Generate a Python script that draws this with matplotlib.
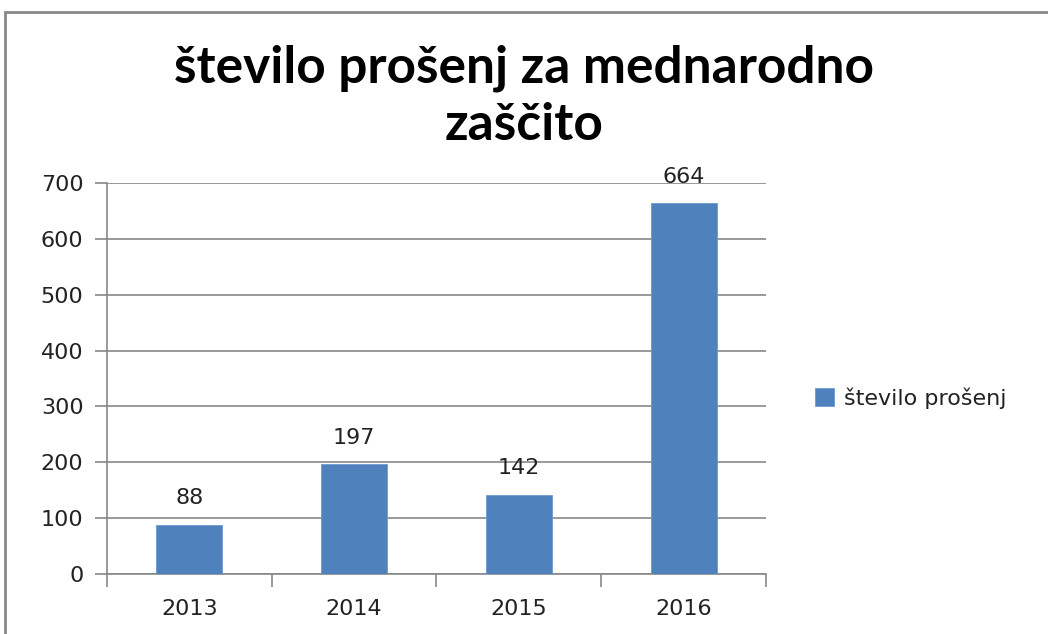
import matplotlib
matplotlib.use("Agg")
import matplotlib.pyplot as plt
from matplotlib.patches import Rectangle

categories = ["2013", "2014", "2015", "2016"]
values = [88, 197, 142, 664]
series_name = "število prošenj"
title_lines = ["število prošenj za mednarodno", "zaščito"]
yticks = [0, 100, 200, 300, 400, 500, 600, 700]

bar_color = "#4F81BD"
grid_color = "#878787"
FS = 16

fig = plt.figure(figsize=(10.48, 6.34), dpi=100)
ax = fig.add_axes([107/1048, 1-574/634, (766-107)/1048, (574-183)/634])

x = list(range(len(categories)))
bars = ax.bar(x, values, width=0.4, color=bar_color, edgecolor="#6f9bd0", linewidth=0.6,
              label=series_name, zorder=3)
ax.set_xlim(-0.5, len(categories) - 0.5)
ax.set_ylim(0, 700)
ax.set_yticks(yticks)
ax.set_yticklabels([str(t) for t in yticks], fontsize=FS, family="DejaVu Sans", color="#222222")
ax.set_xticks(x)
ax.set_xticklabels(categories, fontsize=FS, family="DejaVu Sans", color="#222222")
ax.tick_params(axis="x", length=0, pad=18)
ax.set_xticks([i - 0.5 for i in range(len(categories) + 1)], minor=True)
ax.tick_params(axis="x", which="minor", length=9, width=1.2, color=grid_color)
ax.tick_params(axis="y", length=9, width=1.2, color=grid_color, pad=8)
ax.yaxis.grid(True, color=grid_color, linewidth=1.2, zorder=0)
ax.set_axisbelow(True)
for s in ["top", "right"]:
    ax.spines[s].set_visible(False)
for s in ["left", "bottom"]:
    ax.spines[s].set_color(grid_color)
    ax.spines[s].set_linewidth(1.2)

for xi, v in zip(x, values):
    ax.annotate(str(v), (xi, v), xytext=(0, 19), textcoords="offset points",
                ha="center", va="center", fontsize=FS, family="DejaVu Sans", color="#222222")

fig.text(0.5, 1-68/634, title_lines[0], ha="center", va="center",
         fontsize=37, fontweight="bold", family="Lato")
fig.text(0.5, 1-125/634, title_lines[1], ha="center", va="center",
         fontsize=37, fontweight="bold", family="Lato")

leg = fig.legend(handles=[bars], labels=[series_name], loc="center left",
                 bbox_to_anchor=(795/1048, 1-398/634), frameon=False,
                 handlelength=0.85, handleheight=0.85, handletextpad=0.45,
                 prop={"family": "DejaVu Sans", "size": FS})
for t in leg.get_texts():
    t.set_color("#222222")

fig.patches.append(Rectangle((5/1048, -0.1), 1.2, 1 - 12/634 + 0.1, transform=fig.transFigure,
                             fill=False, edgecolor="#888888", linewidth=2))

fig.savefig("out.png", dpi=100)
